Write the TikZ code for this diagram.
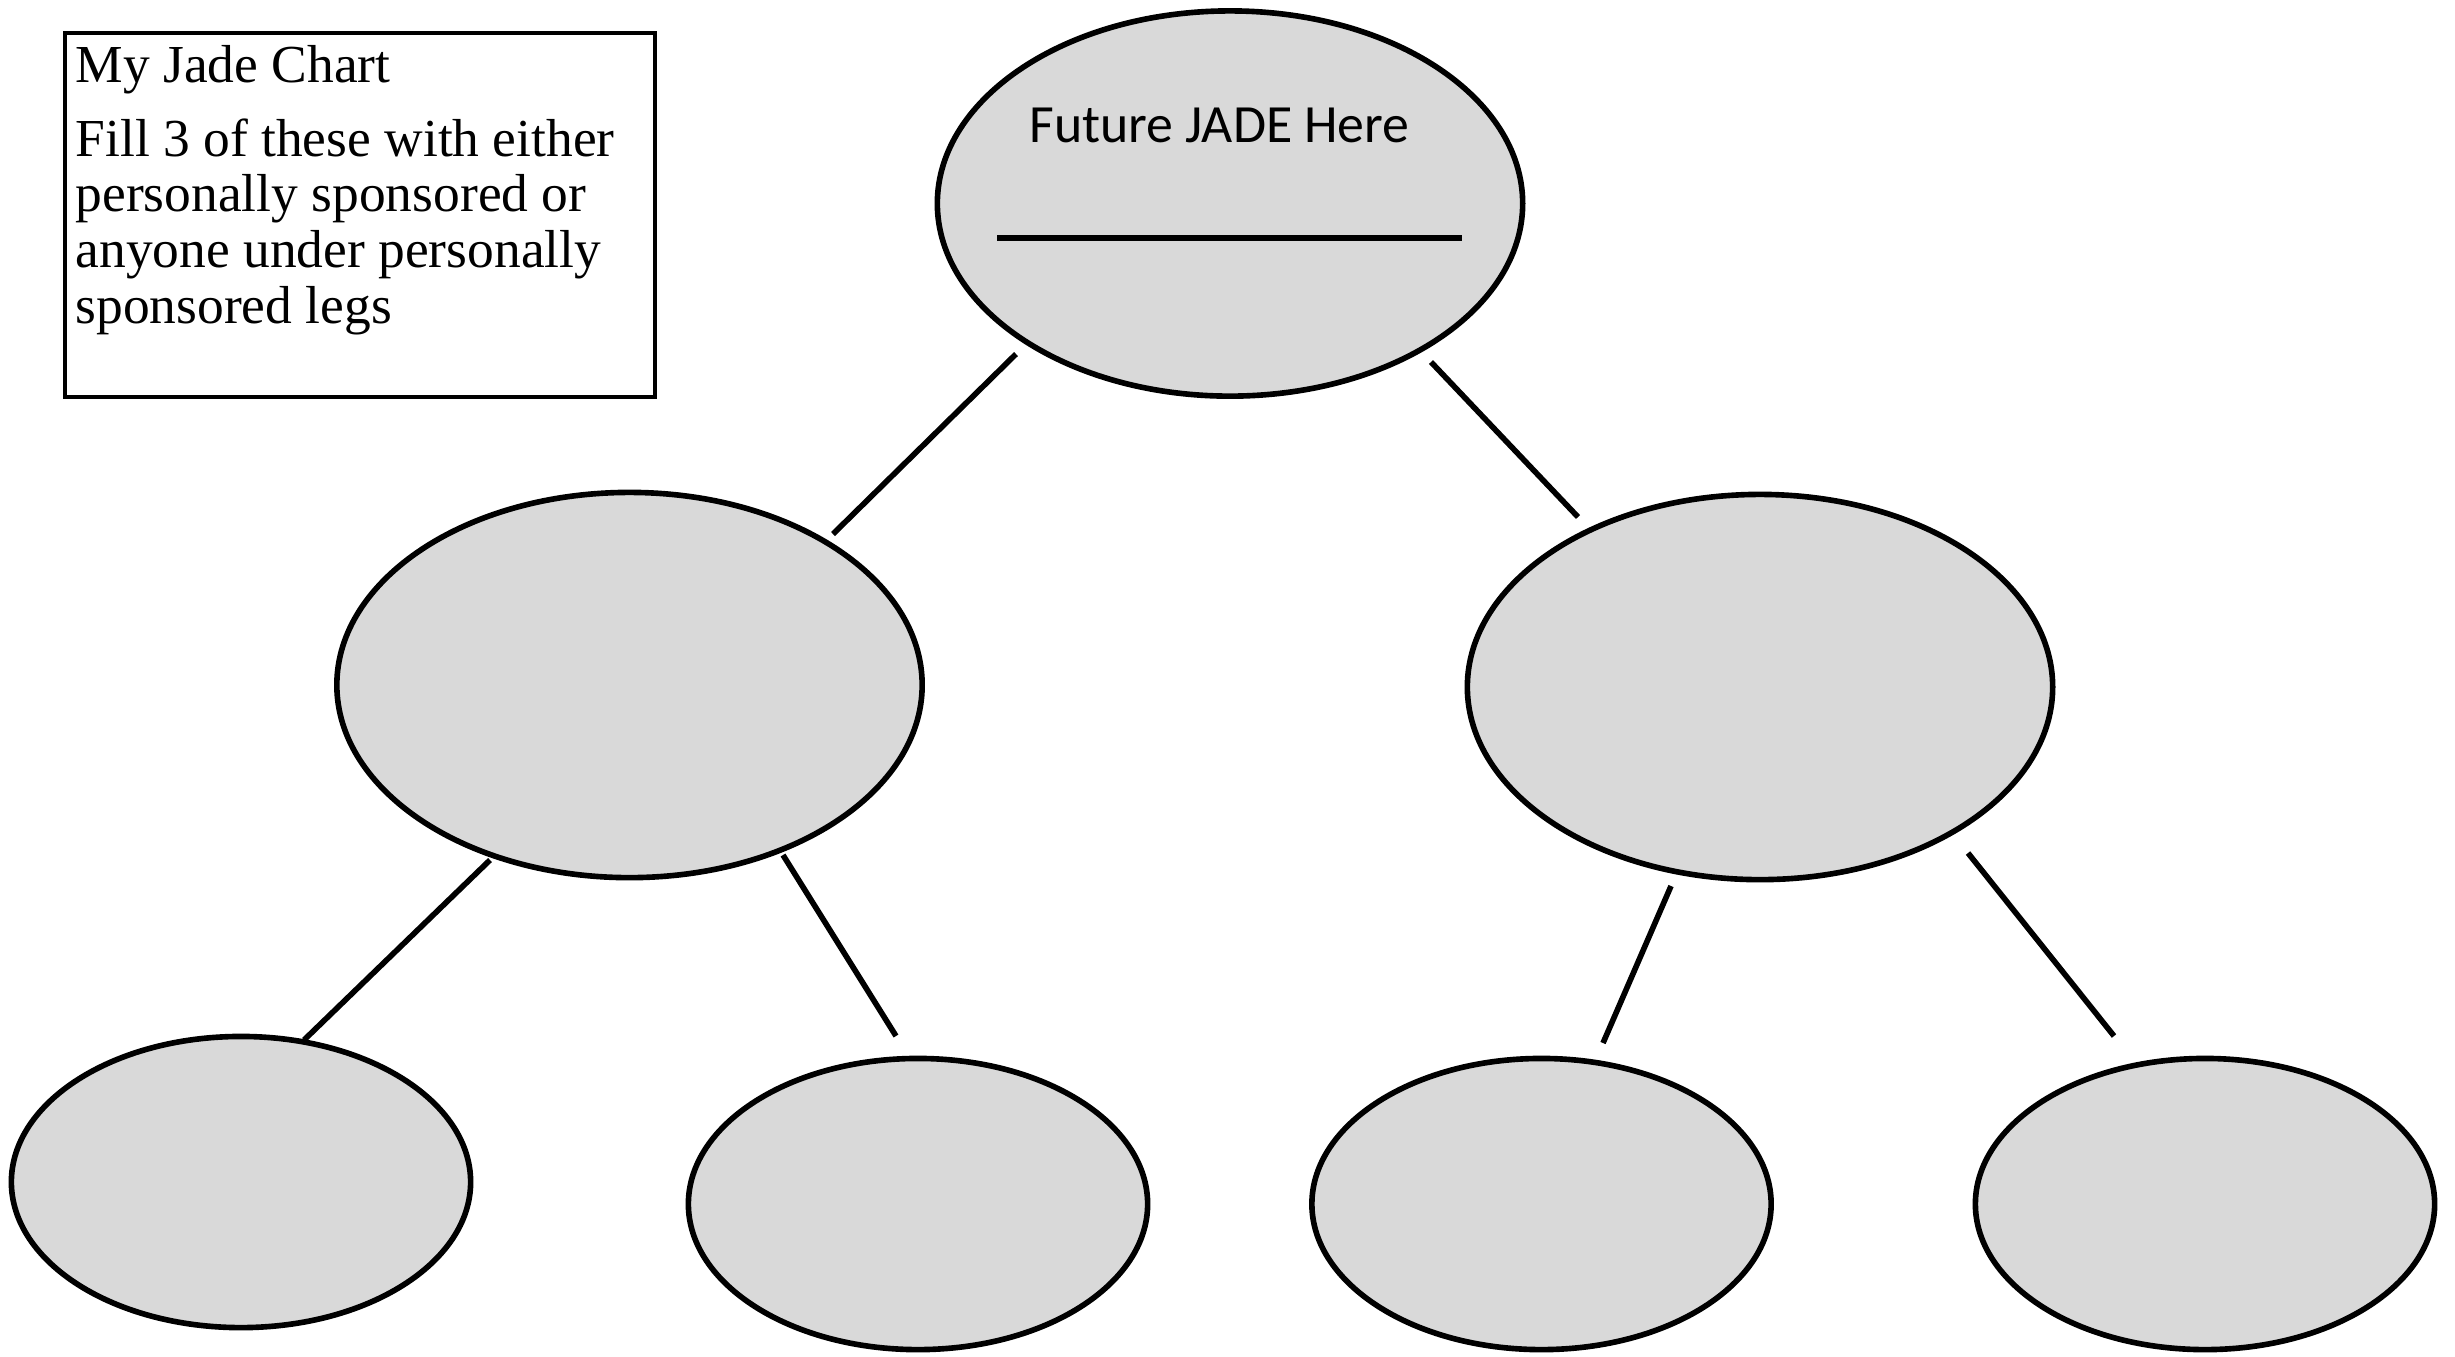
\documentclass[tikz,border=0pt]{standalone}
\usepackage{fontspec}
\setmainfont{Liberation Serif}
\newfontfamily\calibrifont{Carlito}
\usetikzlibrary{shapes.geometric}
\definecolor{nodegray}{HTML}{D9D9D9}
\tikzset{
  bubble/.style={ellipse, draw=black, fill=nodegray, line width=1.6pt, inner sep=0pt},
  bigbubble/.style={bubble, minimum width=5.85cm, minimum height=3.85cm},
  smallbubble/.style={bubble, minimum width=4.59cm, minimum height=2.91cm},
  link/.style={line width=1.6pt},
  notetext/.style={anchor=base west, inner sep=0pt, font=\fontsize{15.2pt}{17pt}\selectfont}
}
\begin{document}
\begin{tikzpicture}[x=0.01cm, y=-0.01cm]
\useasboundingbox (0,0) rectangle (2455,1356);
% note box
\node[draw, line width=1.1pt, minimum width=5.9cm, minimum height=3.64cm, anchor=north west, inner sep=0pt] (box) at (63,31) {};
\node[notetext] (t1) at (75,82) {My Jade Chart};
\node[notetext] (t2) at (75,156) {Fill 3 of these with either};
\node[notetext] (t3) at (75,211.5) {personally sponsored or};
\node[notetext] (t4) at (75,267) {anyone under personally};
\node[notetext] (t5) at (75,323) {sponsored legs};
% ellipses
\node[bigbubble] (top) at (1230,203.5) {};
\node[bigbubble] (ml) at (629.5,685) {};
\node[bigbubble] (mr) at (1760,687) {};
\node[smallbubble] (b1) at (241,1182) {};
\node[smallbubble] (b2) at (918,1204) {};
\node[smallbubble] (b3) at (1541.5,1204) {};
\node[smallbubble] (b4) at (2205,1204) {};
% top label and line
\node[anchor=base, inner sep=0pt, font=\calibrifont\fontsize{15.3pt}{18pt}\selectfont] (lbl) at (1219.5,142) {Future JADE Here};
\coordinate (ula) at (997,238);
\coordinate (ulb) at (1462,238);
\draw[line width=1.8pt] (ula) -- (ulb);
% connectors
\coordinate (l1a) at (1016,354); \coordinate (l1b) at (833,534);
\coordinate (l2a) at (1431,362); \coordinate (l2b) at (1578,517);
\coordinate (l3a) at (490,860);  \coordinate (l3b) at (304,1040);
\coordinate (l4a) at (783,855);  \coordinate (l4b) at (896,1036);
\coordinate (l5a) at (1671,886); \coordinate (l5b) at (1603,1043);
\coordinate (l6a) at (1968,853); \coordinate (l6b) at (2114,1036);
\draw[link] (l1a) -- (l1b);
\draw[link] (l2a) -- (l2b);
\draw[link] (l3a) -- (l3b);
\draw[link] (l4a) -- (l4b);
\draw[link] (l5a) -- (l5b);
\draw[link] (l6a) -- (l6b);
\end{tikzpicture}
\end{document}
